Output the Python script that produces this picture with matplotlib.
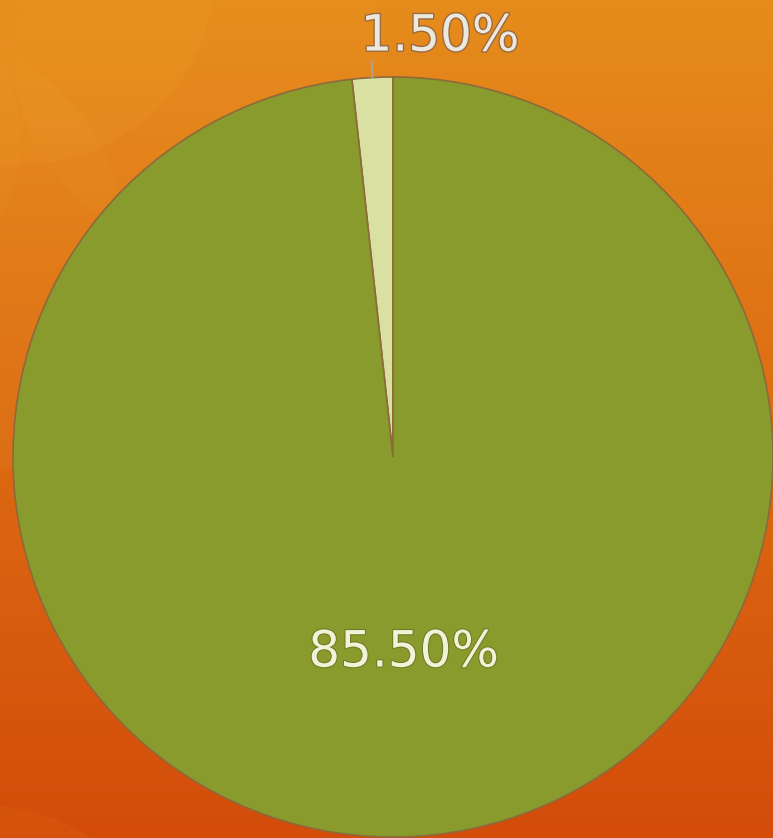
import numpy as np
import matplotlib
matplotlib.use("Agg")
import matplotlib.pyplot as plt
from matplotlib.patches import Circle
import matplotlib.patheffects as pe

# data
labels = ["1.50%", "85.50%"]
values = [1.5, 85.5]
colors = ["#d8e0a2", "#8a9b2d"]

W, H = 773, 838
fig = plt.figure(figsize=(W / 100, H / 100), dpi=100)
ax = fig.add_axes([0, 0, 1, 1])

# background gradient (top orange -> bottom red-orange)
top = np.array([0xe6, 0x8c, 0x1c]) / 255
bot = np.array([0xd3, 0x4c, 0x0a]) / 255
t = np.linspace(0, 1, 256)[:, None]
grad = (top[None, :] * (1 - t) + bot[None, :] * t)[:, None, :]
ax.imshow(grad, extent=[0, W, 0, H], aspect="auto", zorder=0, origin="upper")

# decorative translucent circles (y measured from top)
for cx, cy, r, a in [(20, -30, 195, 0.07), (200, 60, 185, 0.04),
                     (-110, 260, 240, 0.05), (-150, 140, 170, 0.04),
                     (-20, 1010, 205, 0.05)]:
    ax.add_patch(Circle((cx, H - cy), r, facecolor="#ffd050", alpha=a,
                        edgecolor="none", zorder=1))

center = (393, H - 457)
radius = 380
wedges, _ = ax.pie(values, colors=colors, startangle=90, counterclock=True,
                   center=center, radius=radius, frame=True,
                   wedgeprops=dict(edgecolor="#8c6a3a", linewidth=1.2))
for w in wedges:
    w.set_zorder(3)
ax.set_xlim(0, W)
ax.set_ylim(0, H)
ax.set_aspect("equal")
ax.axis("off")

# labels
w_small, w_big = wedges
# big slice label inside
mid = np.deg2rad((w_big.theta1 + w_big.theta2) / 2)
ax.text(center[0] + 0.51 * radius * np.cos(mid),
        center[1] + 0.51 * radius * np.sin(mid) - 2, labels[1],
        ha="center", va="center", fontsize=36, color="#f2f2d8",
        family="DejaVu Sans", zorder=5,
        path_effects=[pe.withStroke(linewidth=1.5, foreground="#6f7a25")])

# small slice label outside with leader
mid = np.deg2rad((w_small.theta1 + w_small.theta2) / 2)
x0 = center[0] + radius * np.cos(mid)
y0 = center[1] + radius * np.sin(mid)
x1 = center[0] + (radius + 16) * np.cos(mid)
y1 = center[1] + (radius + 16) * np.sin(mid)
ax.plot([x0, x1], [y0, y1], color="#b0a090", lw=1.5, zorder=4)
ax.text(x1 - 11, y1 + 1, labels[0], ha="left", va="bottom", fontsize=36,
        color="#ebe8e0", family="DejaVu Sans", zorder=5,
        path_effects=[pe.withStroke(linewidth=2, foreground="#9a6a40")])

fig.savefig("out.png", dpi=100)
